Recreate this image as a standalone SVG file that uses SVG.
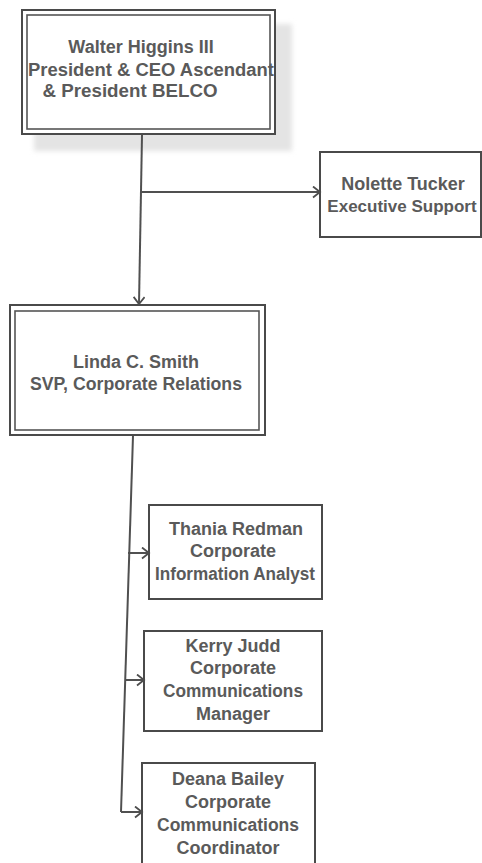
<svg xmlns="http://www.w3.org/2000/svg" width="482" height="863" viewBox="0 0 482 863">
  <defs>
    <filter id="soft" x="-10%" y="-10%" width="120%" height="120%">
      <feGaussianBlur stdDeviation="2.5"/>
    </filter>
    <marker id="arrow" markerUnits="userSpaceOnUse" markerWidth="12" markerHeight="14" refX="8" refY="6" orient="auto">
      <path d="M1,0.5 L8,6 L1,11.5" fill="none" stroke="#4d4d4d" stroke-width="1.8"/>
    </marker>
    <style>
      .box { fill: #ffffff; stroke: #4a4a4a; stroke-width: 2; }
      .inner { fill: none; stroke: #555555; stroke-width: 1.6; }
      .label { font-family: "Liberation Sans", Arial, sans-serif; font-weight: bold; font-size: 18px; fill: #5a5a5a; text-anchor: middle; }
      .wire { fill: none; stroke: #505050; stroke-width: 2; }
    </style>
  </defs>

  <!-- Walter Higgins III -->
  <g id="node-higgins">
    <rect x="34" y="24" width="258" height="127" fill="#e4e4e4" filter="url(#soft)"/>
    <rect class="box" x="22" y="10" width="253" height="124"/>
    <rect class="inner" x="27" y="15" width="243" height="114"/>
    <text class="label" x="141" y="53">Walter Higgins III</text>
    <text class="label" x="151" y="76" textLength="246" lengthAdjust="spacingAndGlyphs">President &amp; CEO Ascendant</text>
    <text class="label" x="130" y="97" textLength="175" lengthAdjust="spacingAndGlyphs">&amp; President BELCO</text>
  </g>

  <!-- Nolette Tucker -->
  <g id="node-tucker">
    <rect class="box" x="320" y="152" width="161" height="85"/>
    <text class="label" x="403" y="190">Nolette Tucker</text>
    <text class="label" x="402" y="212" style="font-size:17px">Executive Support</text>
  </g>

  <!-- Linda C. Smith -->
  <g id="node-smith">
    <rect class="box" x="10" y="305" width="255" height="130"/>
    <rect class="inner" x="15" y="311" width="244" height="119"/>
    <text class="label" x="136" y="368">Linda C. Smith</text>
    <text class="label" x="136" y="390" textLength="212" lengthAdjust="spacingAndGlyphs">SVP, Corporate Relations</text>
  </g>

  <!-- Thania Redman -->
  <g id="node-redman">
    <rect class="box" x="149" y="505" width="173" height="94"/>
    <text class="label" x="236" y="535">Thania Redman</text>
    <text class="label" x="233" y="557">Corporate</text>
    <text class="label" x="235" y="580" textLength="160" lengthAdjust="spacingAndGlyphs">Information Analyst</text>
  </g>

  <!-- Kerry Judd -->
  <g id="node-judd">
    <rect class="box" x="144" y="631" width="178" height="100"/>
    <text class="label" x="233" y="652">Kerry Judd</text>
    <text class="label" x="233" y="674">Corporate</text>
    <text class="label" x="233" y="697" textLength="140" lengthAdjust="spacingAndGlyphs">Communications</text>
    <text class="label" x="233" y="720">Manager</text>
  </g>

  <!-- Deana Bailey -->
  <g id="node-bailey">
    <rect class="box" x="142" y="763" width="173" height="101"/>
    <text class="label" x="228" y="785">Deana Bailey</text>
    <text class="label" x="228" y="808">Corporate</text>
    <text class="label" x="228" y="831" textLength="142" lengthAdjust="spacingAndGlyphs">Communications</text>
    <text class="label" x="228" y="854">Coordinator</text>
  </g>

  <!-- connectors, drawn last so the trunk shows over the drop shadow -->
  <g id="connectors">
    <path class="wire" d="M142,135 L139,304" marker-end="url(#arrow)"/>
    <path class="wire" d="M141,192 L320,192" marker-end="url(#arrow)"/>
    <path class="wire" d="M133,436 L121,812"/>
    <path class="wire" d="M128,553 L149,553" marker-end="url(#arrow)"/>
    <path class="wire" d="M125,680 L144,680" marker-end="url(#arrow)"/>
    <path class="wire" d="M121,812 L142,812" marker-end="url(#arrow)"/>
  </g>
</svg>
